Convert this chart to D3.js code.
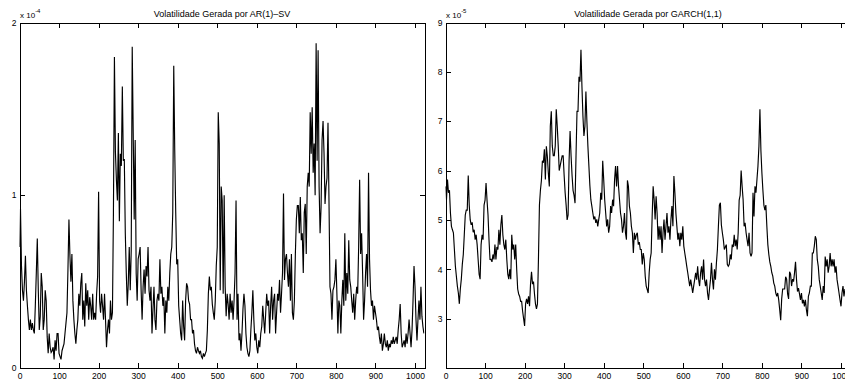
<!DOCTYPE html>
<html>
<head>
<meta charset="utf-8">
<script src="https://cdn.jsdelivr.net/npm/d3@7/dist/d3.min.js"></script>
<style>
  body { margin: 0; background: #ffffff; }
  svg { display: block; }
  text { font-family: "Liberation Sans", Arial, Helvetica, sans-serif; fill: #000; }
</style>
</head>
<body>
<svg id="chart" width="845" height="381"></svg>
<script>
// ---------------- DATA ----------------
// sampling step of the time index (observations 0..1024)
const sampleStep = 2.5;
const timeDomain = [0, 1024];
const xTickValues = [0, 100, 200, 300, 400, 500, 600, 700, 800, 900, 1000];

// Left panel: AR(1)-SV volatility, in units of 1e-4
const arTitle = "Volatilidade Gerada por AR(1)\u2013SV";
const arExponent = "-4";
const arYDomain = [0, 2];
const arYTicks = [0, 1, 2];
const arVol = [
  0.70, 0.92, 0.59, 0.45, 0.39, 0.50, 0.65, 0.45, 0.36, 0.28,
  0.22, 0.28, 0.22, 0.26, 0.22, 0.20, 0.36, 0.55, 0.75, 0.45,
  0.22, 0.30, 0.55, 0.47, 0.22, 0.28, 0.45, 0.39, 0.18, 0.085,
  0.20, 0.12, 0.09, 0.10, 0.12, 0.05, 0.16, 0.10, 0.20, 0.20,
  0.085, 0.066, 0.05, 0.10, 0.12, 0.14, 0.20, 0.26, 0.32, 0.57,
  0.86, 0.65, 0.50, 0.66, 0.39, 0.28, 0.20, 0.14, 0.22, 0.28,
  0.43, 0.36, 0.49, 0.55, 0.28, 0.39, 0.24, 0.49, 0.36, 0.45,
  0.28, 0.41, 0.36, 0.28, 0.43, 0.28, 0.32, 0.28, 0.43, 0.53,
  1.02, 0.39, 0.32, 0.43, 0.36, 0.28, 0.43, 0.28, 0.12, 0.22,
  0.28, 0.20, 0.39, 0.28, 0.32, 0.90, 1.80, 1.25, 1.09, 0.97,
  1.36, 0.85, 1.24, 1.17, 1.63, 1.20, 1.21, 0.78, 0.55, 0.36,
  0.49, 0.70, 0.45, 0.68, 1.86, 1.36, 0.86, 1.32, 0.55, 0.39,
  0.63, 0.66, 0.70, 0.45, 0.28, 0.47, 0.57, 0.43, 0.59, 0.53,
  0.70, 0.45, 0.39, 0.47, 0.20, 0.34, 0.47, 0.28, 0.22, 0.39,
  0.43, 0.39, 0.63, 0.43, 0.47, 0.36, 0.41, 0.20, 0.39, 0.32,
  0.47, 0.39, 0.55, 0.66, 0.70, 0.90, 1.75, 1.26, 0.90, 0.60,
  0.63, 0.36, 0.28, 0.20, 0.16, 0.39, 0.24, 0.16, 0.39, 0.49,
  0.47, 0.39, 0.37, 0.28, 0.28, 0.20, 0.22, 0.14, 0.10, 0.085,
  0.12, 0.10, 0.085, 0.10, 0.066, 0.056, 0.085, 0.066, 0.085, 0.10,
  0.22, 0.43, 0.53, 0.45, 0.47, 0.37, 0.32, 0.28, 0.39, 0.59,
  0.70, 1.48, 1.30, 0.45, 1.05, 0.97, 0.43, 1.00, 0.47, 0.30,
  0.43, 0.37, 0.28, 0.43, 0.32, 0.39, 0.28, 0.39, 0.55, 0.97,
  0.28, 0.43, 0.16, 0.20, 0.10, 0.20, 0.34, 0.43, 0.36, 0.20,
  0.12, 0.085, 0.066, 0.10, 0.22, 0.32, 0.45, 0.28, 0.16, 0.20,
  0.12, 0.085, 0.16, 0.12, 0.20, 0.24, 0.36, 0.28, 0.20, 0.32,
  0.43, 0.36, 0.39, 0.20, 0.36, 0.47, 0.28, 0.39, 0.43, 0.20,
  0.32, 0.43, 0.39, 0.51, 0.32, 0.43, 0.55, 1.01, 0.51, 0.63,
  0.66, 0.55, 0.47, 0.63, 0.39, 0.66, 0.32, 0.28, 0.39, 0.66,
  0.86, 0.94, 0.94, 0.78, 0.99, 0.74, 0.78, 0.55, 0.90, 0.95,
  0.66, 1.05, 1.13, 1.05, 1.48, 1.24, 1.51, 1.13, 1.30, 1.00,
  1.88, 1.20, 1.84, 1.05, 0.78, 0.93, 1.32, 1.43, 1.24, 0.95,
  1.05, 1.10, 1.42, 0.97, 0.47, 0.43, 0.28, 0.45, 0.47, 0.51,
  0.63, 0.43, 0.20, 0.39, 0.36, 0.20, 0.39, 0.51, 0.36, 0.78,
  0.39, 0.55, 0.43, 0.74, 0.51, 0.47, 0.39, 0.32, 0.43, 0.28,
  0.39, 0.47, 0.43, 0.70, 1.09, 0.66, 0.78, 0.55, 0.28, 0.39,
  0.55, 0.66, 0.47, 1.13, 0.63, 0.45, 0.36, 0.39, 0.28, 0.36,
  0.32, 0.28, 0.22, 0.24, 0.18, 0.14, 0.20, 0.10, 0.14, 0.20,
  0.14, 0.12, 0.16, 0.10, 0.14, 0.12, 0.16, 0.14, 0.18, 0.14,
  0.16, 0.18, 0.14, 0.22, 0.28, 0.37, 0.20, 0.12, 0.14, 0.16,
  0.12, 0.20, 0.14, 0.20, 0.28, 0.20, 0.12, 0.22, 0.39, 0.59,
  0.47, 0.28, 0.16, 0.28, 0.39, 0.28, 0.47, 0.30, 0.24, 0.20
];

// Right panel: GARCH(1,1) volatility, in units of 1e-5
const garchTitle = "Volatilidade Gerada por GARCH(1,1)";
const garchExponent = "-5";
const garchYDomain = [2, 9];
const garchYTicks = [3, 4, 5, 6, 7, 8, 9];
const garchVol = [
  5.68, 5.41, 5.82, 5.55, 5.60, 5.14, 4.87, 4.80, 4.74, 4.40,
  4.06, 3.86, 3.66, 3.52, 3.30, 3.60, 3.80, 4.10, 4.30, 4.70,
  5.10, 5.20, 5.20, 5.90, 5.30, 5.00, 4.90, 4.95, 4.75, 4.80,
  4.60, 4.70, 4.50, 4.20, 3.90, 3.80, 4.50, 4.70, 4.60, 5.30,
  5.40, 5.75, 5.40, 5.10, 4.60, 4.20, 4.20, 4.15, 4.30, 4.20,
  4.50, 4.20, 4.45, 4.40, 4.80, 4.50, 4.90, 5.10, 4.70, 4.50,
  4.40, 4.60, 4.20, 3.90, 3.80, 4.00, 3.80, 4.70, 4.40, 4.50,
  4.20, 4.50, 4.00, 3.60, 3.50, 3.45, 3.35, 3.35, 3.15, 3.00,
  2.85, 3.30, 3.40, 3.30, 3.45, 3.25, 3.70, 3.95, 3.70, 3.75,
  3.50, 3.30, 3.20, 3.30, 4.20, 5.30, 5.60, 5.80, 6.20, 6.16,
  6.43, 5.82, 6.49, 6.29, 5.95, 5.68, 6.90, 7.20, 6.50, 6.30,
  6.30, 6.50, 7.24, 6.90, 6.50, 6.00, 6.10, 6.20, 6.30, 6.30,
  5.90, 5.55, 5.30, 5.00, 5.10, 6.20, 6.80, 6.30, 5.90, 5.60,
  5.50, 5.34, 6.30, 7.20, 7.20, 7.90, 7.80, 8.45, 7.70, 7.10,
  6.70, 6.90, 7.60, 7.00, 6.50, 6.10, 5.70, 5.41, 5.28, 5.14,
  5.01, 5.07, 4.94, 5.01, 4.87, 5.01, 5.14, 5.55, 5.41, 6.20,
  5.82, 5.41, 5.14, 4.87, 5.01, 4.74, 4.87, 5.28, 5.14, 5.41,
  5.28, 5.82, 6.09, 5.68, 6.09, 5.68, 5.41, 5.14, 5.01, 4.74,
  4.87, 5.14, 4.74, 4.60, 5.80, 5.68, 5.28, 5.14, 4.87, 4.74,
  4.33, 4.74, 4.60, 4.70, 4.74, 4.50, 4.55, 4.40, 4.40, 4.10,
  4.33, 4.20, 3.86, 3.66, 3.59, 3.52, 3.93, 4.20, 4.33, 5.07,
  5.68, 5.41, 5.01, 5.48, 5.14, 4.60, 4.87, 4.60, 4.87, 4.33,
  4.74, 5.01, 4.60, 4.87, 5.14, 4.74, 4.87, 4.60, 5.01, 5.28,
  4.87, 5.89, 5.55, 5.14, 4.87, 4.60, 4.74, 4.47, 4.74, 4.60,
  4.87, 4.47, 4.33, 4.20, 4.06, 3.93, 3.79, 3.66, 3.79, 3.66,
  3.52, 3.66, 3.79, 3.93, 3.79, 4.06, 3.79, 3.66, 3.93, 4.06,
  3.79, 4.20, 3.79, 3.66, 3.79, 3.52, 3.38, 3.60, 3.79, 4.13,
  3.79, 3.59, 4.00, 3.79, 4.13, 4.40, 4.87, 5.30, 5.35, 4.90,
  4.74, 4.60, 4.40, 4.45, 4.50, 4.10, 4.06, 4.10, 4.30, 4.20,
  4.50, 4.45, 4.70, 4.47, 4.60, 4.40, 4.74, 5.40, 5.50, 6.00,
  5.68, 5.41, 4.87, 4.94, 4.74, 4.60, 4.47, 4.74, 4.33, 4.26,
  4.33, 5.55, 5.07, 5.68, 5.55, 5.82, 6.09, 6.50, 7.24, 6.40,
  5.95, 5.60, 5.30, 5.20, 5.30, 4.87, 4.50, 4.30, 4.15, 4.06,
  3.93, 3.86, 3.72, 3.66, 3.52, 3.45, 3.52, 3.38, 3.18, 2.97,
  3.40, 3.60, 3.60, 3.60, 3.85, 3.80, 3.50, 3.40, 3.95, 3.90,
  3.66, 3.80, 3.75, 3.93, 4.15, 3.79, 3.55, 3.62, 3.50, 3.38,
  3.52, 3.31, 3.38, 3.25, 3.38, 3.18, 3.05, 3.45, 3.52, 3.66,
  3.66, 4.33, 4.33, 4.47, 4.67, 4.60, 4.20, 4.06, 3.79, 3.66,
  3.52, 3.38, 3.66, 3.52, 4.26, 4.06, 4.20, 3.93, 4.06, 4.33,
  4.06, 4.20, 4.06, 4.20, 3.93, 4.06, 3.79, 3.66, 3.52, 3.38,
  3.25, 3.52, 3.66, 3.45, 3.60
];

// ---------------- DRAWING ----------------
const svg = d3.select("#chart");
const W = 845, H = 381;
svg.append("rect").attr("width", W).attr("height", H).attr("fill", "#fff");

function drawPanel(opts) {
  const { left, right, top, bottom, values, yDomain, yTicks, title, exponent } = opts;
  const x = d3.scaleLinear().domain(timeDomain).range([left, right]);
  const y = d3.scaleLinear().domain(yDomain).range([bottom, top]);
  const g = svg.append("g");

  const clipId = "clip" + Math.round(left);
  svg.append("defs").append("clipPath").attr("id", clipId)
    .append("rect").attr("x", left).attr("y", top)
    .attr("width", right - left).attr("height", bottom - top);

  const pts = values.map((v, i) => [i * sampleStep, v]);
  const line = d3.line().x(d => x(d[0])).y(d => y(d[1]));
  g.append("path")
    .datum(pts)
    .attr("clip-path", `url(#${clipId})`)
    .attr("fill", "none")
    .attr("stroke", "#000")
    .attr("stroke-width", 1.15)
    .attr("stroke-linejoin", "miter")
    .attr("stroke-miterlimit", 3)
    .attr("d", line);

  const tickLen = 5;
  const styleAxis = sel => {
    sel.selectAll("path.domain").attr("stroke", "#000").attr("stroke-width", 1)
      .attr("shape-rendering", "crispEdges");
    sel.selectAll(".tick line").attr("stroke", "#000").attr("stroke-width", 1)
      .attr("shape-rendering", "crispEdges");
    sel.selectAll(".tick text").attr("font-size", 8.5)
      .attr("font-family", '"Liberation Sans", Arial, Helvetica, sans-serif');
  };

  g.append("g").attr("transform", `translate(0,${bottom})`)
    .call(d3.axisBottom(x).tickValues(xTickValues).tickFormat(d3.format("d"))
      .tickSizeInner(-tickLen).tickSizeOuter(0).tickPadding(5))
    .call(styleAxis);
  g.append("g").attr("transform", `translate(0,${top})`)
    .call(d3.axisTop(x).tickValues(xTickValues).tickFormat("")
      .tickSizeInner(-tickLen).tickSizeOuter(0))
    .call(styleAxis);
  g.append("g").attr("transform", `translate(${left},0)`)
    .call(d3.axisLeft(y).tickValues(yTicks).tickFormat(d3.format("d"))
      .tickSizeInner(-tickLen).tickSizeOuter(0).tickPadding(3))
    .call(styleAxis);
  g.append("g").attr("transform", `translate(${right},0)`)
    .call(d3.axisRight(y).tickValues(yTicks).tickFormat("")
      .tickSizeInner(-tickLen).tickSizeOuter(0))
    .call(styleAxis);

  g.selectAll(".domain").attr("fill", "none");

  g.append("text")
    .attr("x", (left + right) / 2).attr("y", 16.5)
    .attr("text-anchor", "middle")
    .attr("font-size", 9)
    .text(title);

  const ex = g.append("text").attr("x", left + 0.5).attr("y", 17.5).attr("font-size", 8);
  ex.append("tspan").text("x 10");
  ex.append("tspan").attr("dy", -4.5).attr("font-size", 6).text(exponent);
}

drawPanel({
  left: 19.5, right: 424.5, top: 22.5, bottom: 368,
  values: arVol, yDomain: arYDomain, yTicks: arYTicks,
  title: arTitle, exponent: arExponent
});

drawPanel({
  left: 445.5, right: 850.5, top: 22.5, bottom: 368,
  values: garchVol, yDomain: garchYDomain, yTicks: garchYTicks,
  title: garchTitle, exponent: garchExponent
});
</script>
</body>
</html>
